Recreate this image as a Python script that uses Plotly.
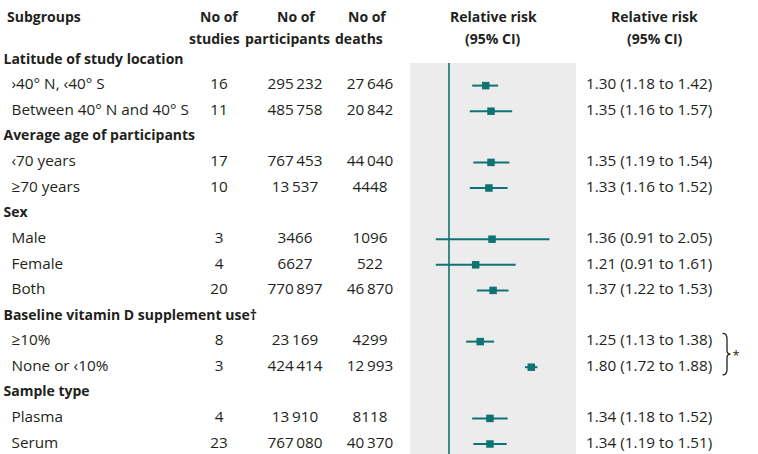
import math
import plotly.graph_objects as go

# ---------------- data ----------------
labels = [
    "Latitude of study location",
    "›40° N, ‹40° S",
    "Between 40° N and 40° S",
    "Average age of participants",
    "‹70 years",
    "≥70 years",
    "Sex",
    "Male",
    "Female",
    "Both",
    "Baseline vitamin D supplement use†",
    "≥10%",
    "None or ‹10%",
    "Sample type",
    "Plasma",
    "Serum",
]
is_heading = [True, False, False, True, False, False, True, False, False, False,
              True, False, False, True, False, False]
studies = [None, 16, 11, None, 17, 10, None, 3, 4, 20, None, 8, 3, None, 4, 23]
participants = [None, 295232, 485758, None, 767453, 13537, None, 3466, 6627, 770897,
                None, 23169, 424414, None, 13910, 767080]
deaths = [None, 27646, 20842, None, 44040, 4448, None, 1096, 522, 46870,
          None, 4299, 12993, None, 8118, 40370]
rr = [None, 1.30, 1.35, None, 1.35, 1.33, None, 1.36, 1.21, 1.37, None, 1.25, 1.80,
      None, 1.34, 1.34]
ci_lo = [None, 1.18, 1.16, None, 1.19, 1.16, None, 0.91, 0.91, 1.22, None, 1.13, 1.72,
         None, 1.18, 1.19]
ci_hi = [None, 1.42, 1.57, None, 1.54, 1.52, None, 2.05, 1.61, 1.53, None, 1.38, 1.88,
         None, 1.52, 1.51]
col_headers = ["Subgroups", "No of<br>studies", "No of<br>participants", "No of<br>deaths",
               "Relative risk<br>(95% CI)", "Relative risk<br>(95% CI)"]
reference_value = 1.0

# ---------------- styling ----------------
W, H = 758, 454
TEAL = "#0f7373"
TXT = "#231f20"
FONT = "Open Sans"
FS = 15.3    # regular text
FSB = 14     # bold text
ROW0_PX, ROW_PX = 60.0, 25.6          # pixel y of first row, row spacing
PANEL_L, PANEL_R, PANEL_T = 410, 576, 63
ONE_PX, PX_PER_LN = 449, 140.0
PX_PER_LOG10 = PX_PER_LN * math.log(10)


def fmt(n):
    if n is None:
        return ""
    s = f"{n:,}".replace(",", "\u2009")
    return s if n >= 10000 else f"{n}"


rows = list(range(len(labels)))
y_top = (0 - ROW0_PX) / ROW_PX
y_bot = (H - ROW0_PX) / ROW_PX

fig = go.Figure()

head_rows = [i for i in rows if is_heading[i]]
sub_rows = [i for i in rows if not is_heading[i]]


def text_trace(xs, ys, texts, pos, size=FS):
    return go.Scatter(x=xs, y=ys, xaxis="x2", yaxis="y", text=texts, mode="text",
                      textposition=pos,
                      textfont=dict(family=FONT, size=size, color=TXT),
                      hoverinfo="skip", cliponaxis=False, showlegend=False)


# subgroup labels
fig.add_trace(text_trace([3.5] * len(head_rows), head_rows,
                         [f"<b>{labels[i]}</b>" for i in head_rows], "middle right", FSB))
fig.add_trace(text_trace([11.5] * len(sub_rows), sub_rows,
                         [labels[i] for i in sub_rows], "middle right"))

# numeric columns
for xc, col in [(219, studies), (295, participants), (370, deaths)]:
    fig.add_trace(text_trace([xc] * len(sub_rows), sub_rows,
                             [fmt(col[i]) for i in sub_rows], "middle center"))

# CI text column
fig.add_trace(text_trace([586] * len(sub_rows), sub_rows,
                         [f"{rr[i]:.2f} ({ci_lo[i]:.2f} to {ci_hi[i]:.2f})" for i in sub_rows],
                         "middle right"))

# CI whiskers
wx, wy = [], []
for i in sub_rows:
    wx += [ci_lo[i], ci_hi[i], None]
    wy += [i, i, None]
fig.add_trace(go.Scatter(x=wx, y=wy, xaxis="x", yaxis="y", mode="lines",
                         line=dict(color=TEAL, width=2), hoverinfo="skip",
                         showlegend=False, cliponaxis=False))
# point estimates
fig.add_trace(go.Scatter(x=[rr[i] for i in sub_rows], y=sub_rows, xaxis="x", yaxis="y",
                         mode="markers",
                         marker=dict(symbol="square", size=7.5, color=TEAL),
                         hoverinfo="skip", showlegend=False, cliponaxis=False))

# asterisk next to bracket
brace_rows = [11, 12]
fig.add_trace(text_trace([736], [sum(brace_rows) / 2 + 0.1], ["*"], "middle center", 13))

# column headers (first line x, second line x)
hx1 = [5, 219, 296, 367.5, 493, 654.5]
hx2 = [5, 214.5, 287.5, 359, 493, 654.5]
anns = []
for j, t in enumerate(col_headers):
    lines = t.split("<br>")
    for k, ln in enumerate(lines):
        ypx = 16 if k == 0 else 38
        x = hx1[j] if k == 0 else hx2[j]
        anns.append(dict(x=x, y=ypx, xref="x2", yref="y2", text=f"<b>{ln}</b>",
                         showarrow=False, xanchor="left" if j == 0 else "center",
                         yanchor="middle",
                         font=dict(family=FONT, size=FSB, color=TXT)))

shapes = [
    dict(type="rect", xref="x domain", yref="y2", x0=0, x1=1, y0=PANEL_T, y1=H,
         fillcolor="#ececec", line=dict(width=0), layer="below"),
    dict(type="line", xref="x", yref="y2", x0=reference_value, x1=reference_value,
         y0=PANEL_T, y1=H, line=dict(color=TEAL, width=1.6)),
]
# brace
bt = brace_rows[0] - 0.32
bb = brace_rows[1] + 0.3
bm = (bt + bb) / 2
bx0, bx1, bx2 = 722.5, 727, 730.5
path = (f"M {bx0},{bt} Q {bx1},{bt} {bx1},{bt+0.2} L {bx1},{bm-0.15} "
        f"Q {bx1},{bm} {bx2},{bm} Q {bx1},{bm} {bx1},{bm+0.15} "
        f"L {bx1},{bb-0.2} Q {bx1},{bb} {bx0},{bb}")
shapes.append(dict(type="path", xref="x2", yref="y", path=path,
                   line=dict(color=TXT, width=1.3)))

fig.update_layout(
    width=W, height=H, margin=dict(l=0, r=0, t=0, b=0),
    paper_bgcolor="white", plot_bgcolor="rgba(0,0,0,0)",
    xaxis=dict(type="log", domain=[PANEL_L / W, PANEL_R / W], anchor="y",
               range=[(PANEL_L - ONE_PX) / PX_PER_LOG10, (PANEL_R - ONE_PX) / PX_PER_LOG10],
               visible=False, fixedrange=True),
    xaxis2=dict(range=[0, W], domain=[0, 1], anchor="y", visible=False,
                fixedrange=True),
    yaxis=dict(range=[y_bot, y_top], domain=[0, 1], visible=False, fixedrange=True),
    yaxis2=dict(range=[H, 0], domain=[0, 1], anchor="x2", overlaying="y",
                visible=False, fixedrange=True),
    shapes=shapes, annotations=anns,
)

fig.write_html("out.html", config={"displayModeBar": False},
               post_script="document.body.style.margin='0';")
